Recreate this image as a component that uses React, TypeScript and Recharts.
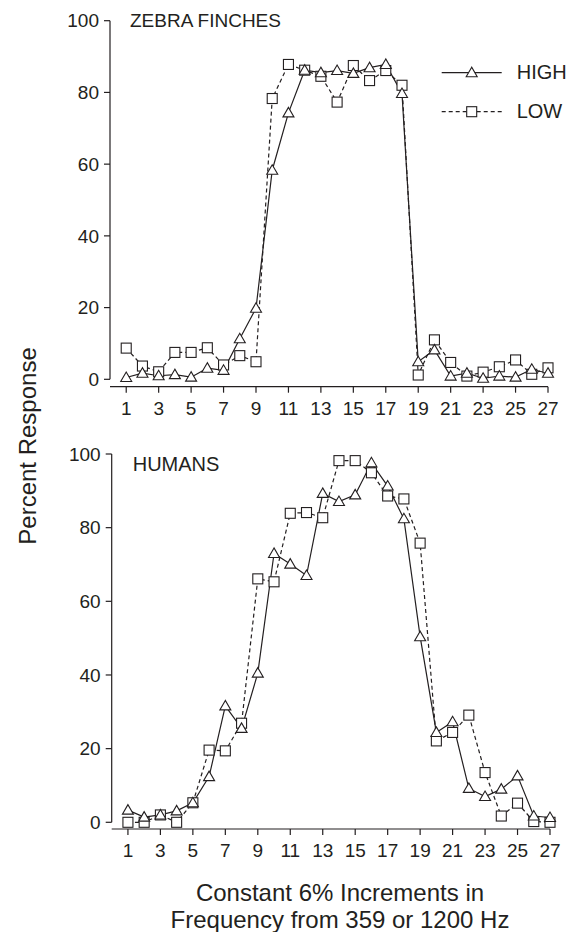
import { Line, LineChart, ReferenceLine, XAxis, YAxis } from "recharts";

// frequency step number (constant 6% increments)
const increments = [1, 2, 3, 4, 5, 6, 7, 8, 9, 10, 11, 12, 13, 14, 15, 16, 17, 18, 19, 20, 21, 22, 23, 24, 25, 26, 27];
const xTicks = [1, 3, 5, 7, 9, 11, 13, 15, 17, 19, 21, 23, 25, 27];
const yTicks = [0, 20, 40, 60, 80, 100];

// percent response, zebra finches
const finchHigh = [0.5, 1.7, 1.0, 1.3, 0.6, 3.1, 2.5, 11.3, 19.8, 58.3, 74.3, 86.2, 85.5, 86.1, 85.3, 86.9, 87.8, 79.7, 4.9, 8.2, 0.9, 1.7, 0.3, 0.9, 0.6, 2.8, 1.7];
const finchLow = [8.7, 3.7, 2.1, 7.5, 7.5, 8.8, 4.0, 6.6, 4.9, 78.3, 87.8, 86.2, 84.5, 77.3, 87.5, 83.3, 86.1, 82.0, 1.2, 11.0, 4.7, 0.9, 2.0, 3.5, 5.4, 1.4, 3.2];

// percent response, humans
const humanHigh = [3.3, 1.4, 2.0, 3.1, 5.3, 12.4, 31.6, 25.5, 40.5, 73.0, 70.1, 67.0, 89.3, 87.1, 88.9, 97.6, 91.3, 82.4, 50.4, 24.4, 27.3, 9.2, 7.0, 9.0, 12.6, 1.7, 1.3];
const humanLow = [0, 0, 2.0, 0, 5.3, 19.6, 19.4, 26.9, 66.1, 65.3, 83.9, 84.1, 82.7, 98.2, 98.2, 94.9, 88.6, 87.8, 75.8, 22.1, 24.4, 29.1, 13.5, 1.7, 5.2, 0.2, 0];

const ink = "#231f20";
const font = '"Liberation Sans", Arial, Helvetica, sans-serif';

type Row = { x: number; high: number; low: number };

function toRows(high: number[], low: number[]): Row[] {
  return increments.map((x, i) => ({ x, high: high[i], low: low[i] }));
}

function TriangleDot(props: any) {
  const { cx, cy, index } = props;
  if (cx == null || cy == null) return <g key={`t-${index}`} />;
  const pts = `${cx},${cy - 5.5} ${cx - 5.5},${cy + 4} ${cx + 5.5},${cy + 4}`;
  return <polygon key={`t-${index}`} points={pts} fill="#fff" stroke={ink} strokeWidth={1.1} />;
}

function SquareDot(props: any) {
  const { cx, cy, index } = props;
  if (cx == null || cy == null) return <g key={`s-${index}`} />;
  return <rect key={`s-${index}`} x={cx - 5} y={cy - 5} width={10} height={10} fill="#fff" stroke={ink} strokeWidth={1.1} />;
}

type PanelProps = {
  data: Row[];
  top: number;
  height: number;
  margin: { top: number; right: number; bottom: number; left: number };
  yMin: number;
};

function Panel({ data, top, height, margin, yMin }: PanelProps) {
  const tickStyle = { fontSize: 19, fill: ink, fontFamily: font };
  return (
    <div style={{ position: "absolute", left: 0, top }}>
      <LineChart width={578} height={height} data={data} margin={margin}>
        <XAxis
          dataKey="x"
          type="number"
          domain={[0, 27]}
          ticks={xTicks}
          interval={0}
          height={40}
          tickSize={6}
          tickMargin={9}
          axisLine={{ stroke: ink, strokeWidth: 1.2 }}
          tickLine={{ stroke: ink, strokeWidth: 1.2 }}
          tick={tickStyle}
        />
        <YAxis
          type="number"
          domain={[yMin, 100]}
          ticks={yTicks}
          interval={0}
          width={110}
          tickSize={6}
          tickMargin={5}
          axisLine={false}
          tickLine={{ stroke: ink, strokeWidth: 1.2 }}
          tick={tickStyle}
        />
        <ReferenceLine
          segment={[
            { x: 0, y: 0 },
            { x: 0, y: 100 },
          ]}
          stroke={ink}
          strokeWidth={1.2}
          ifOverflow="visible"
        />
        <Line
          dataKey="low"
          type="linear"
          stroke={ink}
          strokeWidth={1.2}
          strokeDasharray="4 3"
          dot={SquareDot}
          isAnimationActive={false}
        />
        <Line
          dataKey="high"
          type="linear"
          stroke={ink}
          strokeWidth={1.2}
          dot={TriangleDot}
          isAnimationActive={false}
        />
      </LineChart>
    </div>
  );
}

export default function App() {
  return (
    <div style={{ position: "absolute", left: 0, top: 0, width: 578, height: 932, background: "#fff", fontFamily: font }}>
      <Panel
        data={toRows(finchHigh, finchLow)}
        top={0}
        height={440}
        margin={{ top: 20.7, right: 30, bottom: 13.3, left: 0 }}
        yMin={-2.06}
      />
      <Panel
        data={toRows(humanHigh, humanLow)}
        top={420}
        height={470}
        margin={{ top: 34, right: 28, bottom: 21, left: 1.7 }}
        yMin={-1.82}
      />
      <svg width={578} height={932} style={{ position: "absolute", left: 0, top: 0, pointerEvents: "none" }}>
        <g fill={ink} fontFamily={font}>
          <text x={130} y={27.3} fontSize={19}>ZEBRA FINCHES</text>
          <text x={132.7} y={470.7} fontSize={20}>HUMANS</text>
          <text x={516.7} y={79.3} fontSize={20}>HIGH</text>
          <text x={516.7} y={118.3} fontSize={20}>LOW</text>
          <text x={27} y={446} fontSize={24} textAnchor="middle" dominantBaseline="central" transform="rotate(-90 27 446)">
            Percent Response
          </text>
          <text x={340} y={900.7} fontSize={24} textAnchor="middle">Constant 6% Increments in</text>
          <text x={340} y={927.7} fontSize={24} textAnchor="middle">Frequency from 359 or 1200 Hz</text>
        </g>
        <line x1={441.7} y1={72.7} x2={501.7} y2={72.7} stroke={ink} strokeWidth={1.2} />
        <polygon points="471.7,67.2 466.2,76.7 477.2,76.7" fill="#fff" stroke={ink} strokeWidth={1.1} />
        <line x1={441.7} y1={111.7} x2={501.7} y2={111.7} stroke={ink} strokeWidth={1.2} strokeDasharray="4 3" />
        <rect x={466.7} y={106.7} width={10} height={10} fill="#fff" stroke={ink} strokeWidth={1.1} />
      </svg>
    </div>
  );
}
